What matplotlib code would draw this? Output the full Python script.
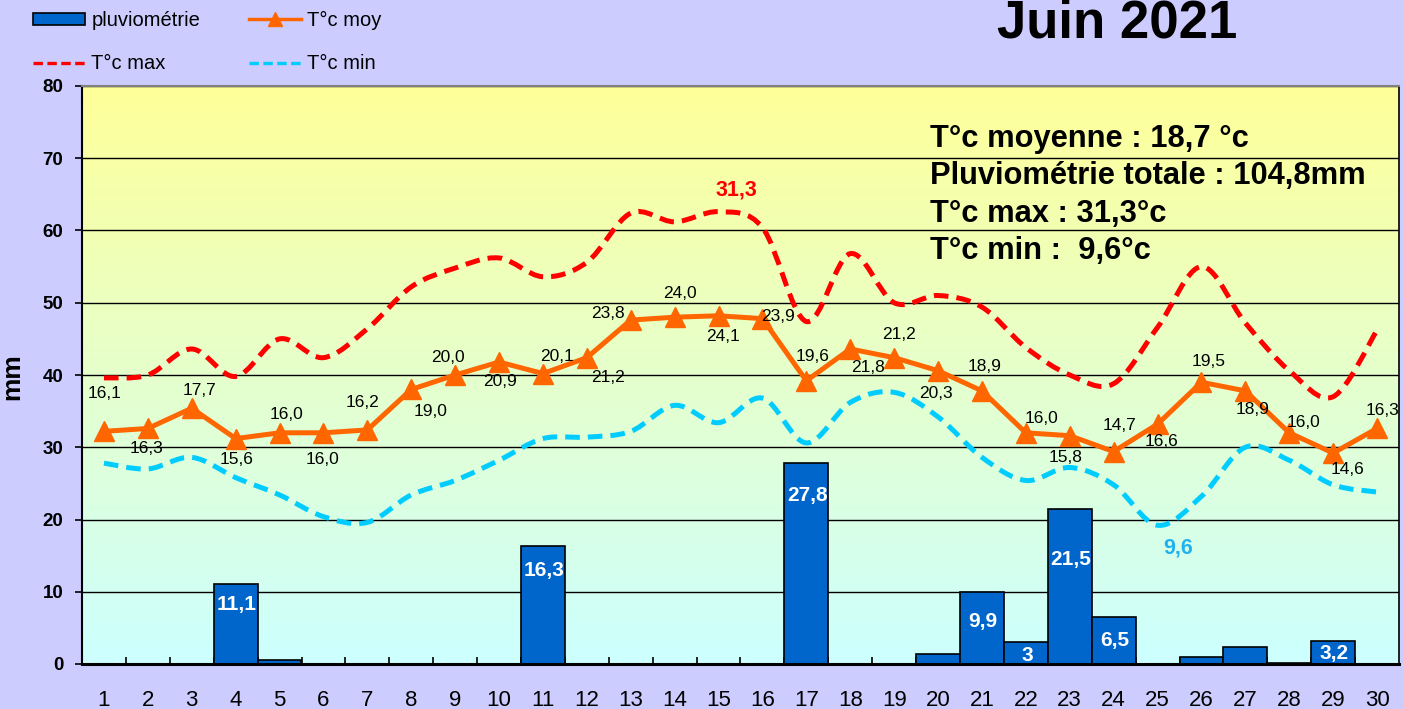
import numpy as np
import matplotlib
matplotlib.use("Agg")
import matplotlib.pyplot as plt
from matplotlib.path import Path
from matplotlib.patches import PathPatch, Patch
from matplotlib.lines import Line2D
from matplotlib.colors import LinearSegmentedColormap

plt.rcParams['font.family'] = ['Liberation Sans', 'DejaVu Sans']
plt.rcParams['lines.scale_dashes'] = False

# ---------------- data ----------------
days = list(range(1, 31))
rain = [0, 0, 0, 11.1, 0.5, 0, 0, 0, 0, 0,
        16.3, 0, 0, 0, 0, 0, 27.8, 0, 0, 1.4,
        9.9, 3.0, 21.5, 6.5, 0, 1.0, 2.4, 0.2, 3.2, 0]
t_moy = [16.1, 16.3, 17.7, 15.6, 16.0, 16.0, 16.2, 19.0, 20.0, 20.9,
         20.1, 21.2, 23.8, 24.0, 24.1, 23.9, 19.6, 21.8, 21.2, 20.3,
         18.9, 16.0, 15.8, 14.7, 16.6, 19.5, 18.9, 16.0, 14.6, 16.3]
t_max = [19.8, 20.0, 21.8, 19.9, 22.5, 21.2, 23.2, 26.1, 27.4, 28.1,
         26.8, 27.8, 31.2, 30.6, 31.3, 30.2, 23.7, 28.4, 25.0, 25.5,
         24.7, 21.9, 20.0, 19.4, 23.3, 27.5, 23.6, 20.3, 18.5, 23.1]
t_min = [13.9, 13.5, 14.3, 12.9, 11.7, 10.2, 9.8, 11.7, 12.7, 14.1,
         15.6, 15.7, 16.1, 17.9, 16.7, 18.4, 15.3, 18.1, 18.8, 17.1,
         14.3, 12.7, 13.6, 12.4, 9.6, 11.6, 15.0, 14.1, 12.4, 11.9]
title = "Juin 2021"
legend_labels = ["pluviométrie", "T°c max", "T°c moy", "T°c min"]

# ---------------- styling ----------------
W, H = 1404, 709
C_BG = '#CCCCFF'
C_BAR = '#0066CC'
C_MOY = '#FF6600'
C_MAX = '#FF0000'
C_MIN = '#00CCFF'
C_MIN_LBL = '#21B1EE'

# label offsets (pixels, dx right, dy down) for the mean-temperature labels
moy_off = [(1, -38), (-1, 20), (8, -18), (1, 21), (7, -18), (-1, 27), (-5, -27),
           (19, 22), (-7, -18), (1, 20), (14, -17), (21, 20), (-23, -7), (5, -24),
           (4, 21), (16, -2), (6, -24), (18, 19), (5, -23), (-2, 23), (3, -24),
           (16, -14), (-4, 22), (6, -26), (4, 17), (7, -21), (7, 19), (14, -10),
           (14, 16), (5, -18)]
# offsets (pixels below bar top) for rain labels, in order of labelled bars
bar_lbl_off = [21, 24, 32, 29, 13, 51, 23, 13]


def fx(px):
    return px / W


def fy(py):
    return 1 - py / H


def fmt(v):
    return f"{v:.1f}".replace('.', ',')


def smooth_path(x, y):
    x = np.asarray(x, float)
    y = np.asarray(y, float)
    n = len(x)
    verts = [(x[0], y[0])]
    codes = [Path.MOVETO]
    for i in range(n - 1):
        p0 = np.array([x[max(i - 1, 0)], y[max(i - 1, 0)]])
        p1 = np.array([x[i], y[i]])
        p2 = np.array([x[i + 1], y[i + 1]])
        p3 = np.array([x[min(i + 2, n - 1)], y[min(i + 2, n - 1)]])
        c1 = p1 + (p2 - p0) / 6.0
        c2 = p2 - (p3 - p1) / 6.0
        verts += [tuple(c1), tuple(c2), tuple(p2)]
        codes += [Path.CURVE4] * 3
    return Path(verts, codes)


fig = plt.figure(figsize=(W / 100, H / 100), dpi=100, facecolor=C_BG)
ax = fig.add_axes([fx(82), 1 - 664 / H, (1399 - 82) / W, (664 - 86) / H])

# gradient background
grad = np.linspace(0, 1, 256).reshape(-1, 1)
cmap = LinearSegmentedColormap.from_list('bg', ['#CCFFFF', '#FFFF99'])
ax.imshow(grad, extent=[0, 1, 0, 1], transform=ax.transAxes, origin='lower',
          cmap=cmap, aspect='auto', zorder=0, interpolation='bilinear')

ax.set_axisbelow(True)
ax.yaxis.grid(True, color='black', lw=1.0)

# bars
ax.bar(days, rain, width=1.0, color=C_BAR, edgecolor='black', linewidth=1.2, zorder=2)
k = 0
for d, r in zip(days, rain):
    if r >= 3:
        lbl = fmt(r) if abs(r - round(r)) > 1e-9 else f"{int(round(r))}"
        ax.annotate(lbl, (d, r), xytext=(1, -bar_lbl_off[k]), textcoords='offset pixels',
                    ha='center', va='center', color='white', fontweight='bold',
                    fontsize=15, zorder=3)
        k += 1

ax.set_xlim(0.5, 30.5)
ax.set_ylim(0, 80)
ax.set_yticks(range(0, 81, 10))
ax.set_yticklabels([str(v) for v in range(0, 81, 10)], fontweight='bold', fontsize=13.5)
ax.tick_params(axis='y', direction='out', length=5, width=1.2, pad=8.5)
ax.set_xticks(days)
ax.set_xticklabels([str(d) for d in days], fontsize=16)
ax.tick_params(axis='x', which='major', length=0, pad=18.5)
ax.set_xticks(np.arange(1.5, 30, 1.0), minor=True)
ax.tick_params(axis='x', which='minor', direction='in', length=5, width=1.2)

ax.spines['left'].set_linewidth(1.5)
ax.spines['bottom'].set_linewidth(2.2)
ax.spines['top'].set_color('#808080')
ax.spines['top'].set_linewidth(1.5)
ax.spines['right'].set_linewidth(1.2)

# temperature axis (hidden), scale 0-40
ax2 = ax.twinx()
ax2.set_ylim(0, 40)
ax2.set_xlim(0.5, 30.5)
ax2.set_yticks([])
for s in ax2.spines.values():
    s.set_visible(False)

dash_big = (0, (10.5, 5.8))
ax2.add_patch(PathPatch(smooth_path(days, t_max), fill=False, edgecolor=C_MAX, linewidth=3.6,
                        linestyle=dash_big, capstyle='butt', zorder=3))
ax2.add_patch(PathPatch(smooth_path(days, t_min), fill=False, edgecolor=C_MIN, linewidth=3.6,
                        linestyle=dash_big, capstyle='butt', zorder=3))
ax2.plot(days, t_moy, color=C_MOY, lw=3.6, marker='^', ms=14, zorder=4)

for d, v, (dx, dy) in zip(days, t_moy, moy_off):
    ax2.annotate(fmt(v), (d, v), xytext=(dx, -dy), textcoords='offset pixels',
                 ha='center', va='center', fontsize=12.5, color='black', zorder=5)

imax = int(np.argmax(t_max))
ax2.annotate(fmt(t_max[imax]), (days[imax], t_max[imax]), xytext=(18, 22),
             textcoords='offset pixels', ha='center', va='center', color=C_MAX,
             fontweight='bold', fontsize=15.5)
imin = int(np.argmin(t_min))
ax2.annotate(fmt(t_min[imin]), (days[imin], t_min[imin]), xytext=(21, -23),
             textcoords='offset pixels', ha='center', va='center', color=C_MIN_LBL,
             fontweight='bold', fontsize=15.5)

# y label
fig.text(fx(12), fy(377), "mm", rotation=90, ha='center', va='center',
         fontsize=19, fontweight='bold')

# title
fig.text(fx(997), fy(38), title, ha='left', va='baseline', fontsize=38, fontweight='bold')

# stats
stats = [f"T°c moyenne : {fmt(np.mean(t_moy))} °c",
         f"Pluviométrie totale : {fmt(sum(rain))}mm",
         f"T°c max : {fmt(max(t_max))}°c",
         f"T°c min :  {fmt(min(t_min))}°c"]
for s, by in zip(stats, [147, 184, 222, 259]):
    fig.text(fx(930), fy(by), s, ha='left', va='baseline', fontsize=22.2, fontweight='bold')

# legend
dash_small = (0, (6.8, 3.2))
h_bar = Patch(facecolor=C_BAR, edgecolor='black', lw=1.2)
h_max = Line2D([], [], color=C_MAX, lw=2.4, linestyle=dash_small)
h_moy = Line2D([], [], color=C_MOY, lw=2.5, marker='^', ms=9.5)
h_min = Line2D([], [], color=C_MIN, lw=2.4, linestyle=dash_small)
fig.legend(handles=[h_bar, h_max, h_moy, h_min], labels=legend_labels, ncol=2,
           loc='upper left', bbox_to_anchor=(fx(33), fy(11)), frameon=False,
           fontsize=14.5, handlelength=2.6, handleheight=0.55, handletextpad=0.3,
           columnspacing=2.4, labelspacing=1.2, borderpad=0, borderaxespad=0,
           numpoints=1)

fig.savefig("out.png", dpi=100, facecolor=C_BG)
